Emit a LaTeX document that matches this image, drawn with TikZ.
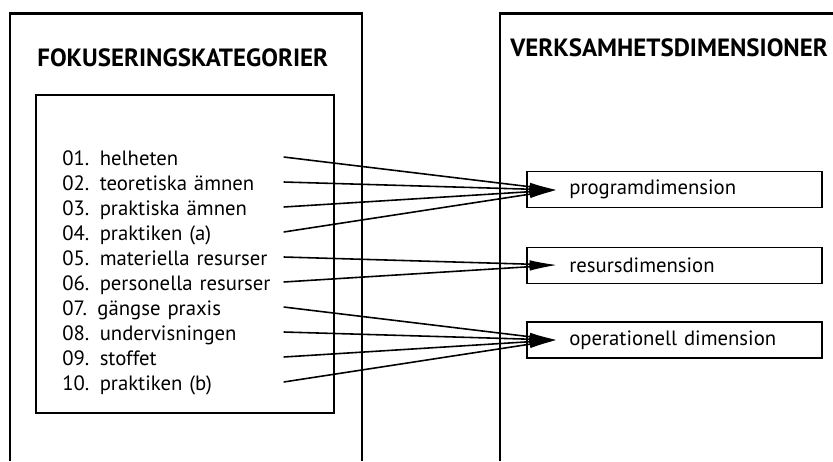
\documentclass[tikz,border=0pt]{standalone}
\usepackage{fontspec}
\setmainfont{PT Sans}
\usetikzlibrary{arrows.meta, positioning}

\begin{document}
\begin{tikzpicture}[x=0.02cm, y=-0.02cm,
    frame/.style={line width=1.7pt},
    box/.style={line width=1.1pt},
    heading/.style={anchor=west, inner sep=0pt, font=\bfseries\fontsize{14.2}{16}\selectfont},
    item/.style={anchor=west, inner sep=0pt, text width=4.42cm, align=left, text height=10pt, text depth=0pt, font=\fontsize{11.8}{14}\selectfont},
    dim/.style={rectangle, draw, line width=0.9pt, anchor=west, inner xsep=0.85cm, inner ysep=0pt, text width=4.2cm, align=left, minimum height=0.72cm, font=\fontsize{11.8}{14}\selectfont},
    arrow/.style={-{Latex[length=5.5mm, width=1.6mm]}, line width=0.9pt}
]
\useasboundingbox (0,0) rectangle (833,461);

\draw[frame] (10,461) -- (10,13) -- (362,13) -- (362,461);
\draw[frame] (500,461) -- (500,13) -- (833,13);
\draw[box] (36,95) rectangle (334,413);

\node[heading] (fokus) at (37,57.5) {FOKUSERINGSKATEGORIER};
\node[heading] (verks) at (510,47.5) {VERKSAMHETSDIMENSIONER};

\node[item] (i01) at (62,157) {01. helheten};
\node[item] (i02) at (62,182) {02. teoretiska ämnen};
\node[item] (i03) at (62,207) {03. praktiska ämnen};
\node[item] (i04) at (62,232) {04. praktiken (a)};
\node[item] (i05) at (62,257) {05. materiella resurser};
\node[item] (i06) at (62,282) {06. personella resurser};
\node[item] (i07) at (62,307) {07. gängse praxis};
\node[item] (i08) at (62,332) {08. undervisningen};
\node[item] (i09) at (62,357) {09. stoffet};
\node[item] (i10) at (62,382) {10. praktiken (b)};

\node[dim] (prog) at (526,189.5) {programdimension};
\node[dim] (resurs) at (526,265.5) {resursdimension};
\node[dim] (oper) at (526,340) {operationell dimension};

\coordinate (prog-in) at (557,190);
\coordinate (resurs-in) at (557,265);
\coordinate (oper-in) at (557,340);

\draw[arrow] (i01.east) -- (prog-in);
\draw[arrow] (i02.east) -- (prog-in);
\draw[arrow] (i03.east) -- (prog-in);
\draw[arrow] (i04.east) -- (prog-in);
\draw[arrow] (i05.east) -- (resurs-in);
\draw[arrow] (i06.east) -- (resurs-in);
\draw[arrow] (i07.east) -- (oper-in);
\draw[arrow] (i08.east) -- (oper-in);
\draw[arrow] (i09.east) -- (oper-in);
\draw[arrow] (i10.east) -- (oper-in);
\end{tikzpicture}
\end{document}
